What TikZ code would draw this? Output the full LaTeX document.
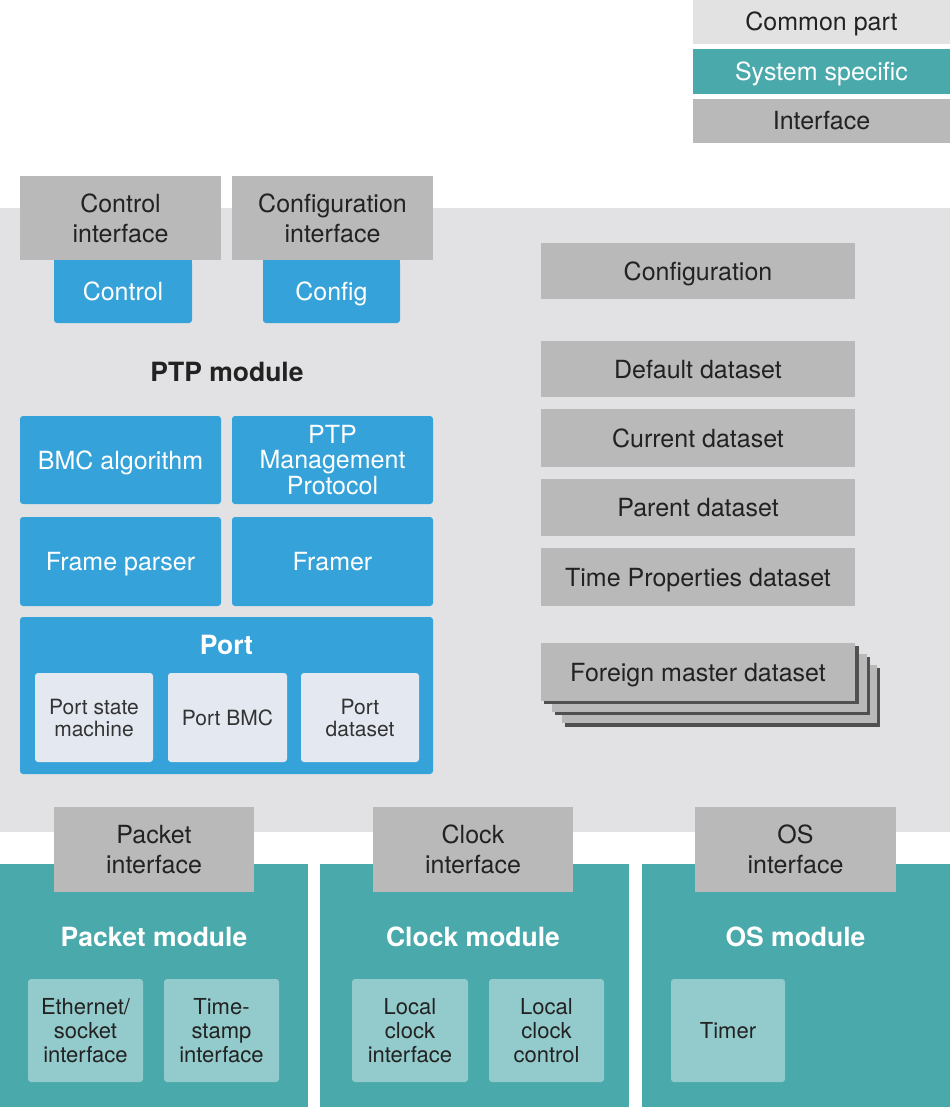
\documentclass[tikz,border=0pt]{standalone}
\usepackage{fontspec}
\setmainfont{TeX Gyre Heros}
\definecolor{bggray}{HTML}{E2E2E4}
\definecolor{common}{HTML}{E2E2E2}
\definecolor{ifgray}{HTML}{B9B9B9}
\definecolor{ptpblue}{HTML}{35A3D9}
\definecolor{teal}{HTML}{4AA9AB}
\definecolor{tealsub}{HTML}{93CACB}
\definecolor{portsub}{HTML}{E3E8F1}
\definecolor{txt}{HTML}{222222}
\definecolor{txtb}{HTML}{333333}
\definecolor{shadowc}{HTML}{505050}
\begin{document}
\begin{tikzpicture}[x=1pt,y=-1pt,
  every node/.style={inner sep=0pt, outer sep=0pt, align=center},
  base/.style={font=\fontsize{25}{30}\selectfont},
  sl/.style={text height=18pt, text depth=0pt},
  gbox/.style={base, fill=ifgray, text=txt},
  bbox/.style={base, fill=ptpblue, text=white, rounded corners=3pt},
  psub/.style={fill=portsub, text=txtb, rounded corners=3pt, font=\fontsize{21}{22}\selectfont},
  tsub/.style={fill=tealsub, text=txt, rounded corners=3pt, font=\fontsize{22}{24}\selectfont},
  ttl/.style={font=\bfseries\fontsize{26.5}{30}\selectfont},
  sz/.style 2 args={minimum width=#1pt, minimum height=#2pt},
]
\useasboundingbox (0,0) rectangle (950,1107);
\fill[white] (0,0) rectangle (950,1107);

% legend
\node[base, sl, fill=common, text=txt, sz={257}{44}] (leg1) at (821.5,22) {Common part};
\node[base, sl, fill=teal, text=white, sz={257}{45}] (leg2) at (821.5,71.5) {System specific};
\node[gbox, sl, sz={257}{44}] (leg3) at (821.5,121) {Interface};

% PTP module background
\fill[bggray] (0,208) rectangle (950,832);

% control / config
\node[bbox, sl, sz={138}{63}] (ctrl) at (123,291.5) {Control};
\node[bbox, sl, sz={137}{63}] (cfg) at (331.5,291.5) {Config};
\fill[ptpblue] (54,258) rectangle (192,266);
\fill[ptpblue] (263,258) rectangle (400,266);
\node[gbox, sz={201}{84}] (ctrlif) at (120.5,218) {Control\\interface};
\node[gbox, sz={201}{84}] (cfgif) at (332.5,218) {Configuration\\interface};

\node[ttl, text=txt] (ptpt) at (227,372) {PTP module};

% blue blocks
\node[bbox, sl, sz={201}{88}] (bmc) at (120.5,460) {BMC algorithm};
\node[bbox, sz={201}{88}, font=\fontsize{25}{25.5}\selectfont] (mgmt) at (332.5,460) {PTP\\Management\\Protocol};
\node[bbox, sl, sz={201}{89}] (fparse) at (120.5,561.5) {Frame parser};
\node[bbox, sl, sz={201}{89}] (framer) at (332.5,561.5) {Framer};
\node[bbox, sz={413}{157}] (port) at (226.5,695.5) {};
\node[ttl, text=white] (portt) at (226.5,645) {Port};
\node[psub, sz={118}{89}] (psm) at (94,717.5) {Port state\\machine};
\node[psub, sz={119}{89}] (pbmc) at (227.5,717.5) {Port BMC};
\node[psub, sz={118}{89}] (pds) at (360,717.5) {Port\\dataset};

% right column
\node[gbox, sl, sz={314}{56}] (conf) at (698,271) {Configuration};
\node[gbox, sl, sz={314}{56}] (dds) at (698,369) {Default dataset};
\node[gbox, sl, sz={314}{58}] (cds) at (698,438) {Current dataset};
\node[gbox, sl, sz={314}{57}] (pards) at (698,507.5) {Parent dataset};
\node[gbox, sl, sz={314}{58}] (tpds) at (698,577) {Time Properties dataset};

% foreign master stack
\fill[shadowc] (565,668) rectangle (880,727);
\node[gbox, sz={315}{58}] (fm3) at (719.5,694) {};
\fill[shadowc] (555,657) rectangle (870,715);
\node[gbox, sz={315}{58}] (fm2) at (709.5,683) {};
\fill[shadowc] (544,646) rectangle (859,704);
\node[gbox, sl, sz={314}{58}] (fm1) at (698,672) {Foreign master dataset};

% bottom modules
\fill[teal] (0,864) rectangle (308,1107);
\fill[teal] (320,864) rectangle (629,1107);
\fill[teal] (642,864) rectangle (950,1107);
\node[gbox, sz={200}{85}] (pif) at (154,849.5) {Packet\\interface};
\node[gbox, sz={200}{85}] (cif) at (473,849.5) {Clock\\interface};
\node[gbox, sz={201}{85}] (osif) at (795.5,849.5) {OS\\interface};
\node[ttl, text=white] (pmod) at (154,937) {Packet module};
\node[ttl, text=white] (cmod) at (473,937) {Clock module};
\node[ttl, text=white] (osmod) at (795.5,937) {OS module};
\node[tsub, sz={115}{103}] (eth) at (85.5,1030.5) {Ethernet/\\socket\\interface};
\node[tsub, sz={115}{103}] (ts) at (221.5,1030.5) {Time-\\stamp\\interface};
\node[tsub, sz={116}{103}] (lci) at (410,1030.5) {Local\\clock\\interface};
\node[tsub, sz={115}{103}] (lcc) at (546.5,1030.5) {Local\\clock\\control};
\node[tsub, sz={114}{103}] (tmr) at (728,1030.5) {Timer};
\end{tikzpicture}
\end{document}
